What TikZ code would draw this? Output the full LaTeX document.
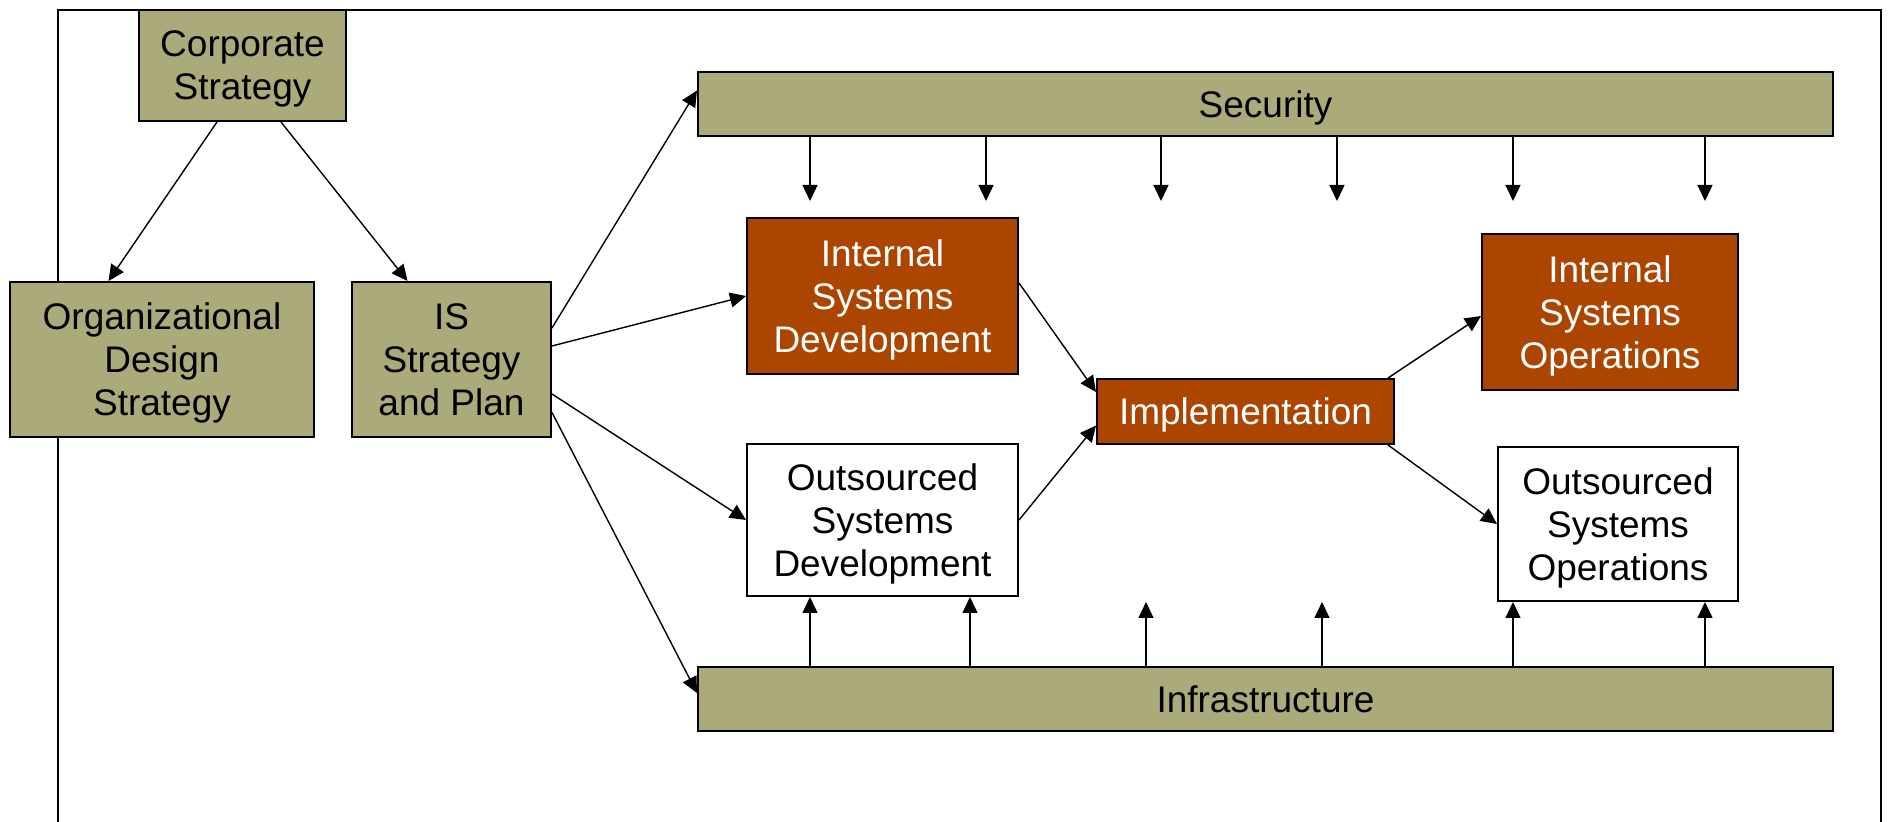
\documentclass[tikz,border=0pt]{standalone}
\usepackage{fontspec}
\setmainfont{Liberation Sans}
\usetikzlibrary{arrows.meta}
\definecolor{olivefill}{HTML}{ABAA7B}
\definecolor{rustfill}{HTML}{AB4500}

\begin{document}
\begin{tikzpicture}[x=0.5pt,y=-0.5pt,
  box/.style={draw=black, line width=1pt, align=center, inner sep=0pt,
    text depth=0pt, font=\fontsize{18.5}{21.5}\selectfont},
  oliveb/.style={box, fill=olivefill, text=black},
  rustb/.style={box, fill=rustfill, text=white},
  whiteb/.style={box, fill=white, text=black},
  arr/.style={-{Triangle[length=8pt,width=7.5pt]}, line width=0.7pt},
  frame/.style={line width=1pt}
]
\useasboundingbox (0,0) rectangle (1891,822);

% open outer frame
\draw[frame] (58,822) -- (58,10) -- (1881,10) -- (1881,822);

% boxes
\node[oliveb, minimum width=103.5pt, minimum height=55.5pt] (cs)  at (242.5,65.5) {Corporate\\Strategy};
\node[oliveb, minimum width=152pt,   minimum height=77.5pt] (org) at (162,359.5)  {Organizational\\Design\\Strategy};
\node[oliveb, minimum width=99.5pt,  minimum height=77.5pt] (isp) at (451.5,359.5) {IS\\Strategy\\and Plan};
\node[oliveb, minimum width=567.5pt, minimum height=32pt]   (sec) at (1265.5,104) {Security};
\node[oliveb, minimum width=567.5pt, minimum height=32pt]   (inf) at (1265.5,699) {Infrastructure};
\node[rustb,  minimum width=135.5pt, minimum height=78pt]   (isd) at (882.5,296)  {Internal\\Systems\\Development};
\node[whiteb, minimum width=135.5pt, minimum height=76pt]   (osd) at (882.5,520)  {Outsourced\\Systems\\Development};
\node[rustb,  minimum width=148.5pt, minimum height=32.5pt] (imp) at (1245.5,411.5) {Implementation};
\node[rustb,  minimum width=128pt,   minimum height=78pt]   (iso) at (1610,312)   {Internal\\Systems\\Operations};
\node[whiteb, minimum width=120pt,   minimum height=77pt]   (oso) at (1618,524)   {Outsourced\\Systems\\Operations};

% strategy links
\draw[arr] ([xshift=-12.75pt]cs.south) -- ([xshift=-26.75pt]org.north);
\draw[arr] ([xshift=19.25pt]cs.south) -- ([xshift=-22pt]isp.north);

% plan to the layers and developments
\draw[arr] ([yshift=15.75pt]isp.east) -- ([yshift=6.75pt]sec.west);
\draw[arr] ([yshift=6.75pt]isp.east) -- (isd.west);
\draw[arr] ([yshift=-17.25pt]isp.east) -- (osd.west);
\draw[arr] ([yshift=-26.5pt]isp.east) -- ([yshift=3pt]inf.west);

% development to implementation to operations
\draw[arr] ([yshift=6.5pt]isd.east) -- ([yshift=9.75pt]imp.west);
\draw[arr] (osd.east) -- ([yshift=-7pt]imp.west);
\draw[arr] ([xshift=-3.5pt]imp.north east) -- ([yshift=-2pt]iso.west);
\draw[arr] ([xshift=-3.5pt]imp.south east) -- (oso.west);

% security feeds down
\foreach \x in {810,986,1161,1337,1513,1705}
  \draw[arr] (sec.south -| \x,0) -- ++(0,64);

% infrastructure supports up
\foreach \x in {810,970}
  \draw[arr] (inf.north -| \x,0) -- (osd.south -| \x,0);
\foreach \x in {1146,1322}
  \draw[arr] (inf.north -| \x,0) -- ++(0,-64);
\foreach \x in {1513,1705}
  \draw[arr] (inf.north -| \x,0) -- (oso.south -| \x,0);
\end{tikzpicture}
\end{document}
